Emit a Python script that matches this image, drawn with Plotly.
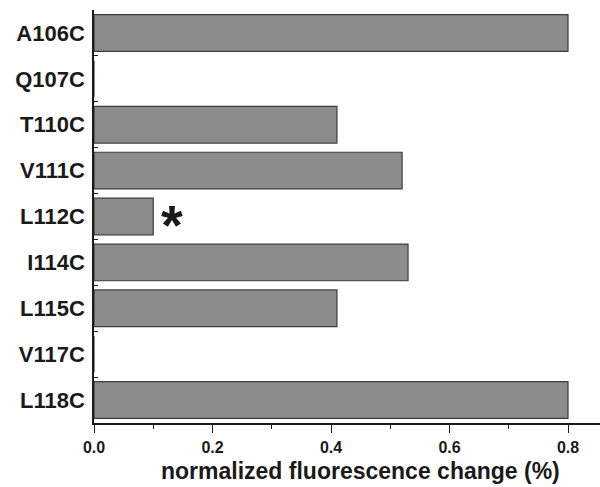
import plotly.graph_objects as go

mutants = ["A106C", "Q107C", "T110C", "V111C", "L112C", "I114C", "L115C", "V117C", "L118C"]
fluor_change = [0.80, 0.0, 0.41, 0.52, 0.10, 0.53, 0.41, 0.0, 0.80]
x_tick_vals = [0.0, 0.2, 0.4, 0.6, 0.8]
x_tick_text = ["0.0", "0.2", "0.4", "0.6", "0.8"]
star_target = "L112C"
star_value = 0.10

fig = go.Figure()
fig.add_trace(go.Bar(
    x=fluor_change, y=mutants, orientation="h",
    marker=dict(color="#8c8c8c", line=dict(color="#3c3c3c", width=1.2)),
    width=0.8,
))

fig.add_annotation(x=star_value + 0.032, y=star_target, xref="x", yref="y",
                   text="<b>*</b>", showarrow=False, xanchor="center", yanchor="middle",
                   yshift=-8, font=dict(size=56, color="#1a1a1a", family="Arial"))

fig.add_annotation(x=0.5, xref="paper", y=-0.116, yref="paper", xshift=13,
                   text="<b>normalized fluorescence change (%)</b>", showarrow=False,
                   xanchor="center", yanchor="middle",
                   font=dict(size=23, color="#1a1a1a", family="Arial"))

fig.update_layout(
    width=600, height=487,
    margin=dict(l=94, r=0, t=10, b=64),
    paper_bgcolor="white", plot_bgcolor="white",
    showlegend=False,
    bargap=0.2,
    font=dict(family="Arial", color="#1a1a1a"),
)
fig.update_xaxes(
    range=[0, 0.854], showgrid=False, zeroline=False,
    showline=True, linecolor="#1a1a1a", linewidth=1.5,
    tickmode="array", tickvals=x_tick_vals, ticktext=x_tick_text,
    ticks="outside", ticklen=8, tickwidth=1.3, tickcolor="#1a1a1a",
    ticklabelstandoff=1,
    tickfont=dict(size=16, family="Arial", color="#1a1a1a", weight="bold"),
    minor=dict(dtick=0.1, tick0=0.1, ticks="outside", ticklen=4, tickwidth=1.3, tickcolor="#1a1a1a", showgrid=False),
)
fig.update_yaxes(
    range=[8.5, -0.5], showgrid=False, zeroline=False,
    showline=True, linecolor="#1a1a1a", linewidth=1.5,
    tickson="boundaries", ticks="inside", ticklen=4, tickwidth=1.2, tickcolor="#1a1a1a",
    ticklabelstandoff=3,
    tickfont=dict(size=22, family="Arial", color="#1a1a1a", weight="bold"),
)
fig.write_html("out.html", config={"displayModeBar": False},
               post_script="document.body.style.margin='0';")
